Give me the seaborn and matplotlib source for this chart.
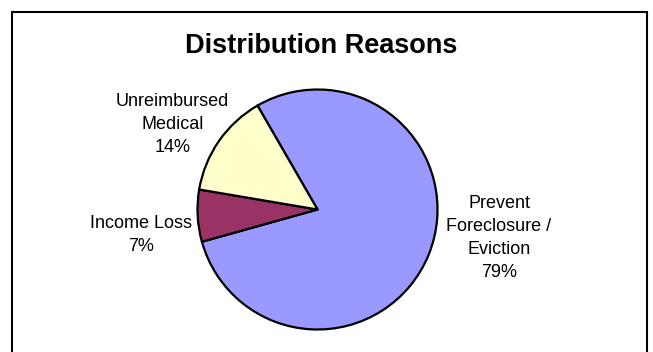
import matplotlib
matplotlib.use("Agg")
import matplotlib.pyplot as plt
import seaborn as sns
import pandas as pd
from matplotlib.patches import Rectangle

categories = ["Prevent\nForeclosure /\nEviction", "Income Loss", "Unreimbursed\nMedical"]
shares = [79, 7, 14]
colors = ["#9999FF", "#993366", "#FFFFCC"]
title = "Distribution Reasons"

df = pd.DataFrame({"category": categories, "share": shares})

sns.set_theme(style="white")
plt.rcParams["font.family"] = ["Liberation Sans", "DejaVu Sans"]

W, H = 653, 352
fig = plt.figure(figsize=(W / 100, H / 100), dpi=100)
ax = fig.add_axes([0, 0, 1, 1])

cx, cy, r = 317.5, H - 209.5, 120
ax.pie(df["share"], colors=colors, startangle=120, counterclock=False,
       center=(cx, cy), radius=r, frame=True,
       wedgeprops=dict(edgecolor="black", linewidth=1.6))
ax.set_xlim(0, W)
ax.set_ylim(0, H)
ax.set_aspect("equal")
ax.axis("off")

# label anchors: (center x, first-line baseline y in pixels from top)
label_pos = [(499, 207.5), (141.5, 227.5), (172.5, 105.5)]
pitch = 23.3
for cat, val, (x, y0) in zip(df["category"], df["share"], label_pos):
    lines = cat.split("\n") + [f"{val}%"]
    for i, line in enumerate(lines):
        ax.text(x, H - (y0 + i * pitch), line, ha="center", va="baseline",
                fontsize=13, color="black")

ax.text(321.5, H - 53, title, ha="center", va="baseline", fontsize=19.5,
        fontweight="bold", color="black")

ax.add_patch(Rectangle((11.5, -20), 635, H - 11.5 + 20, fill=False,
                       edgecolor="black", linewidth=1.5, clip_on=False))

fig.savefig("out.png", dpi=100)
